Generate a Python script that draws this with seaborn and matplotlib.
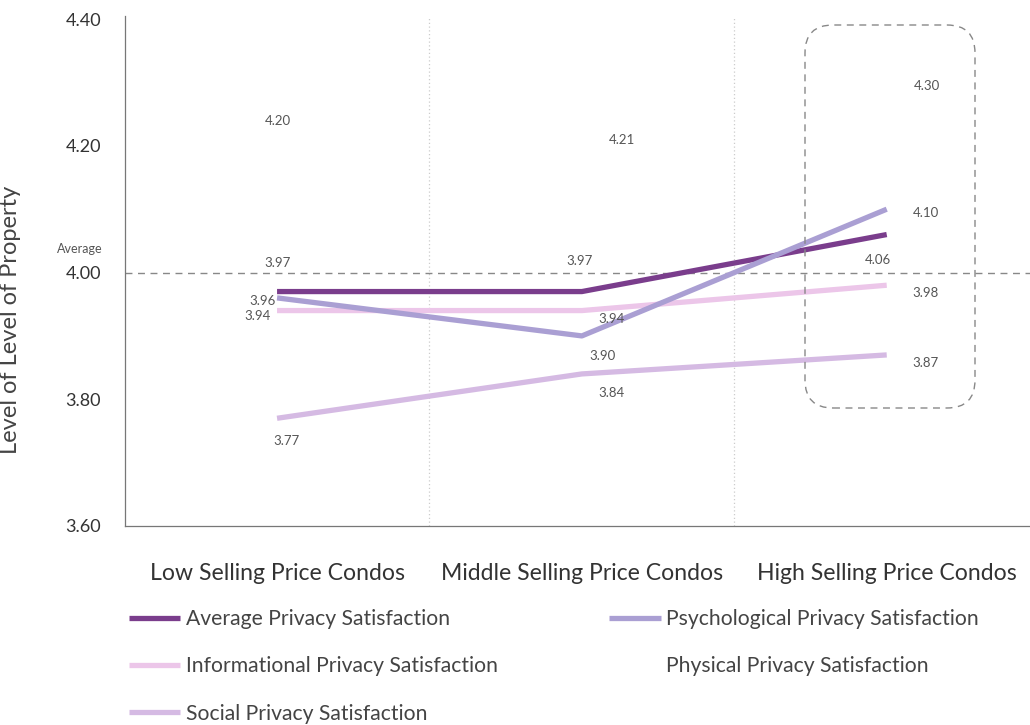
import matplotlib
matplotlib.use("Agg")
import matplotlib.pyplot as plt
from matplotlib.patches import FancyBboxPatch
import seaborn as sns
import pandas as pd

# Categories and series values
categories = ["Low Selling Price Condos", "Middle Selling Price Condos", "High Selling Price Condos"]
average_privacy = [3.97, 3.97, 4.06]
informational_privacy = [3.94, 3.94, 3.98]
social_privacy = [3.77, 3.84, 3.87]
psychological_privacy = [3.96, 3.90, 4.10]
physical_privacy = [4.20, 4.21, 4.30]
overall_average = 4.00
y_ticks = [3.60, 3.80, 4.00, 4.20, 4.40]

series_names = [
    "Average Privacy Satisfaction",
    "Informational Privacy Satisfaction",
    "Social Privacy Satisfaction",
    "Psychological Privacy Satisfaction",
    "Physical Privacy Satisfaction",
]
series_values = [average_privacy, informational_privacy, social_privacy,
                 psychological_privacy, physical_privacy]

palette = {
    "Average Privacy Satisfaction": "#7a3d8c",
    "Informational Privacy Satisfaction": "#ecc6e9",
    "Social Privacy Satisfaction": "#d5bae3",
    "Psychological Privacy Satisfaction": "#aa9fd3",
    "Physical Privacy Satisfaction": (1, 1, 1, 0),  # shown only through its value labels
}

rows = []
for name, vals in zip(series_names, series_values):
    for i, v in enumerate(vals):
        rows.append({"pos": i + 1, "value": v, "series": name})
df = pd.DataFrame(rows)

sns.set_theme(style="white")
plt.rcParams["font.family"] = ["Lato", "DejaVu Sans"]

fig = plt.figure(figsize=(10.3, 7.25), dpi=100)
ax = fig.add_axes([0.121, 0.2745, 0.879, 0.7035])

sns.lineplot(data=df, x="pos", y="value", hue="series", hue_order=series_names,
             palette=palette, linewidth=3.8, ax=ax, legend=True,
             solid_capstyle="butt")

ax.set_xlim(0.5, 3.47)
ax.set_ylim(3.60, 4.405)
ax.set_yticks(y_ticks)
ax.set_yticklabels([f"{t:.2f}" for t in y_ticks], fontsize=13, color="#333333")
ax.set_xticks([1, 2, 3])
ax.set_xticklabels(categories, fontsize=16.6, color="#333333")
ax.tick_params(axis="y", length=0, pad=17)
ax.tick_params(axis="x", length=0, pad=27)
ax.set_xlabel("")
ax.set_ylabel("Level of Level of Property", fontsize=17, color="#444444")
ax.yaxis.set_label_coords(-0.114, 0.404)

for side in ["top", "right"]:
    ax.spines[side].set_visible(False)
for side in ["left", "bottom"]:
    ax.spines[side].set_color("#777777")
    ax.spines[side].set_linewidth(0.9)

# dotted separators between the price groups
for xv in [1.5, 2.5]:
    ax.axvline(xv, color="#cccccc", linestyle=(0, (1, 2)), linewidth=0.9, zorder=0)

# overall average reference line
ax.axhline(overall_average, color="#888888", linestyle=(0, (5, 4)), linewidth=1.0,
           zorder=1, clip_on=False)
ax.annotate("Average", xy=(0, overall_average), xycoords=("axes fraction", "data"),
            xytext=(-45, 24), textcoords="offset pixels", ha="center", va="center",
            fontsize=9, color="#555555")

# value labels, offsets in pixels from each point
label_offsets = {
    "Average Privacy Satisfaction": [(0, 29), (-2, 31), (-9, -25)],
    "Informational Privacy Satisfaction": [(-19, -5), (30, -8), (39, -8)],
    "Social Privacy Satisfaction": [(9, -23), (30, -19), (39, -8)],
    "Psychological Privacy Satisfaction": [(-14, -3), (21, -20), (39, -4)],
    "Physical Privacy Satisfaction": [(1, 25), (40, -1), (40, -4)],
}
for name, vals in zip(series_names, series_values):
    for i, v in enumerate(vals):
        dx, dy = label_offsets[name][i]
        ax.annotate(f"{v:.2f}", xy=(i + 1, v), xytext=(dx, dy),
                    textcoords="offset pixels", ha="center", va="center",
                    fontsize=9.5, color="#555555")

# dashed rounded frame around the high price group
frame = FancyBboxPatch((8.05, 3.17), 1.70, 3.83,
                       boxstyle="round,pad=0,rounding_size=0.28",
                       transform=fig.dpi_scale_trans, fill=False,
                       edgecolor="#888888", linestyle=(0, (5, 4)), linewidth=1.0)
fig.patches.append(frame)

# legend below the axes
handles, labels = ax.get_legend_handles_labels()
for h in handles:
    h.set_linewidth(3.8)
leg = ax.legend(handles, labels, loc="upper left", bbox_to_anchor=(-0.005, -0.146),
                ncol=2, frameon=False, fontsize=15.2, handlelength=2.46,
                handletextpad=0.24, columnspacing=5.26, labelspacing=1.3,
                borderaxespad=0)
for t in leg.get_texts():
    t.set_color("#444444")

fig.savefig("out.png", dpi=100)
